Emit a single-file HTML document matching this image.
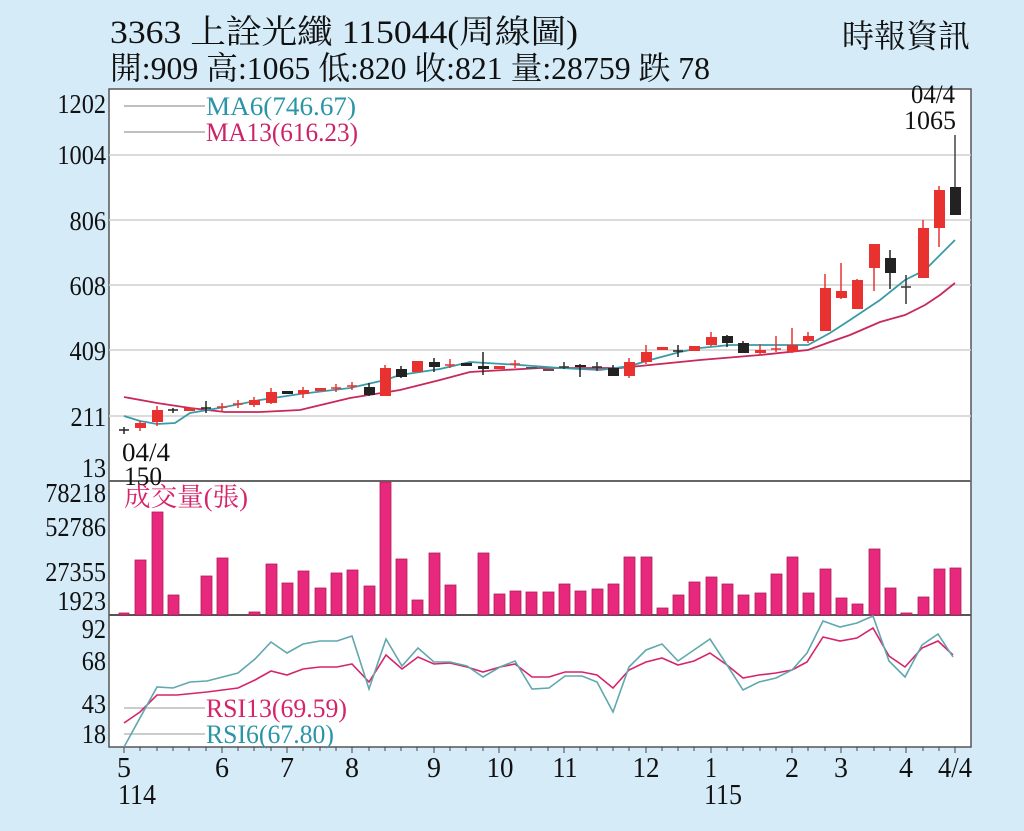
<!DOCTYPE html>
<html><head><meta charset="utf-8"><style>
html,body{margin:0;padding:0;background:#d5ebf8;}
svg{display:block;font-family:"Liberation Serif","Noto Serif CJK SC","Noto Sans CJK TC",serif;}
</style></head><body>
<svg width="1024" height="831" viewBox="0 0 1024 831" xmlns="http://www.w3.org/2000/svg">
<rect width="1024" height="831" fill="#d5ebf8"/>
<text x="110" y="43" font-size="33" fill="#111" textLength="468" lengthAdjust="spacingAndGlyphs">3363  上詮光纖 115044(周線圖)</text>
<text x="110" y="79" font-size="32" fill="#111" textLength="600" lengthAdjust="spacingAndGlyphs">開:909 高:1065 低:820 收:821 量:28759 跌 78</text>
<text x="842" y="47" font-size="32" fill="#111" textLength="128" lengthAdjust="spacingAndGlyphs">時報資訊</text>

<rect x="109" y="89" width="862" height="658" fill="#fff" stroke="#555" stroke-width="1.5"/>
<g stroke="#cfcfcf" stroke-width="1.5">
<line x1="109" y1="155" x2="971" y2="155"/><line x1="109" y1="220" x2="971" y2="220"/>
<line x1="109" y1="285" x2="971" y2="285"/><line x1="109" y1="350" x2="971" y2="350"/>
<line x1="109" y1="416" x2="971" y2="416"/>
</g>
<line x1="109" y1="481" x2="971" y2="481" stroke="#666" stroke-width="2"/>
<line x1="109" y1="615" x2="971" y2="615" stroke="#555" stroke-width="2"/>

<g font-size="27" fill="#111" text-anchor="end" transform="translate(106,0) scale(0.9,1) translate(-106,0)">
<text x="106" y="113">1202</text><text x="106" y="164">1004</text><text x="106" y="230">806</text>
<text x="106" y="295">608</text><text x="106" y="360">409</text><text x="106" y="426">211</text>
<text x="106" y="477">13</text>
<text x="106" y="502">78218</text><text x="106" y="536">52786</text><text x="106" y="581">27355</text><text x="106" y="610">1923</text>
<text x="106" y="638">92</text><text x="106" y="670">68</text><text x="106" y="713">43</text><text x="106" y="743">18</text>
</g>

<line x1="124" y1="106" x2="205" y2="106" stroke="#aaa" stroke-width="1.5"/>
<line x1="124" y1="132" x2="205" y2="132" stroke="#aaa" stroke-width="1.5"/>
<text x="206" y="115" font-size="26" fill="#2b95a8" textLength="150" lengthAdjust="spacingAndGlyphs">MA6(746.67)</text>
<text x="206" y="141" font-size="26" fill="#cc2366" textLength="152" lengthAdjust="spacingAndGlyphs">MA13(616.23)</text>
<text x="911" y="103" font-size="26" fill="#111" textLength="44" lengthAdjust="spacingAndGlyphs">04/4</text>
<text x="904" y="129" font-size="26" fill="#111" textLength="52" lengthAdjust="spacingAndGlyphs">1065</text>
<text x="122" y="461" font-size="26" fill="#111" textLength="48" lengthAdjust="spacingAndGlyphs">04/4</text>
<text x="124" y="485" font-size="26" fill="#111" textLength="38" lengthAdjust="spacingAndGlyphs">150</text>

<!-- MAs -->
<polyline fill="none" stroke="#c8285a" stroke-width="1.8" points="124,397 157,403 190,408 225,412 260,412 300,410 350,398 400,390 440,380 470,372 540,368 620,368 660,364 700,360 760,355 808,350 830,342 850,335 880,322 905,315 925,305 940,295 955,283"/>
<polyline fill="none" stroke="#3a9aa8" stroke-width="1.8" points="124,416 140,421 157,424 175,423 190,413 225,407 260,400 300,394 350,388 385,380 400,375 440,369 470,362 520,365 560,368 600,370 630,366 650,360 680,352 700,348 730,345 760,345 808,345 830,333 850,320 880,300 905,280 925,270 940,255 955,240"/>

<!-- candles -->
<g stroke-width="1.5">
<g stroke="#222"><line x1="124" y1="427" x2="124" y2="434"/><line x1="119" y1="430" x2="129" y2="430"/></g>
<line x1="140" y1="421" x2="140" y2="431" stroke="#e8322f"/><rect x="135" y="423" width="11" height="5" fill="#e8322f"/>
<line x1="157" y1="406" x2="157" y2="426" stroke="#e8322f"/><rect x="152" y="410" width="11" height="12" fill="#e8322f"/>
<g stroke="#222"><line x1="173" y1="408" x2="173" y2="413"/><line x1="168" y1="410" x2="178" y2="410"/></g>
<rect x="184" y="408" width="11" height="3" fill="#e8322f"/>
<g stroke="#222"><line x1="206" y1="401" x2="206" y2="413"/><line x1="201" y1="408" x2="211" y2="408"/></g>
<g stroke="#e8322f"><line x1="222" y1="403" x2="222" y2="411"/><line x1="217" y1="407" x2="227" y2="407"/></g>
<g stroke="#e8322f"><line x1="238" y1="400" x2="238" y2="408"/><line x1="233" y1="404" x2="243" y2="404"/></g>
<line x1="254" y1="397" x2="254" y2="407" stroke="#e8322f"/><rect x="249" y="400" width="11" height="5" fill="#e8322f"/>
<line x1="271" y1="388" x2="271" y2="404" stroke="#e8322f"/><rect x="266" y="392" width="11" height="11" fill="#e8322f"/>
<rect x="282" y="391" width="11" height="3" fill="#222"/>
<line x1="303" y1="387" x2="303" y2="398" stroke="#e8322f"/><rect x="298" y="390" width="11" height="4" fill="#e8322f"/>
<rect x="315" y="388" width="11" height="3" fill="#e8322f"/>
<g stroke="#e8322f"><line x1="336" y1="384" x2="336" y2="392"/><line x1="331" y1="388" x2="341" y2="388"/></g>
<g stroke="#e8322f"><line x1="352" y1="382" x2="352" y2="390"/><line x1="347" y1="386" x2="357" y2="386"/></g>
<line x1="369" y1="383" x2="369" y2="396" stroke="#222"/><rect x="364" y="387" width="11" height="8" fill="#222"/>
<line x1="385" y1="365" x2="385" y2="396" stroke="#e8322f"/><rect x="380" y="368" width="11" height="28" fill="#e8322f"/>
<line x1="401" y1="366" x2="401" y2="378" stroke="#222"/><rect x="396" y="369" width="11" height="8" fill="#222"/>
<rect x="412" y="361" width="11" height="11" fill="#e8322f"/>
<line x1="434" y1="358" x2="434" y2="372" stroke="#222"/><rect x="429" y="362" width="11" height="5" fill="#222"/>
<g stroke="#e8322f"><line x1="450" y1="359" x2="450" y2="368"/><line x1="445" y1="365" x2="455" y2="365"/></g>
<rect x="461" y="363" width="11" height="3" fill="#222"/>
<line x1="483" y1="352" x2="483" y2="375" stroke="#222"/><rect x="478" y="366" width="11" height="3" fill="#222"/>
<rect x="494" y="366" width="11" height="3" fill="#e8322f"/>
<g stroke="#e8322f"><line x1="515" y1="360" x2="515" y2="368"/><line x1="510" y1="364" x2="520" y2="364"/></g>
<rect x="526" y="367" width="11" height="2" fill="#555"/>
<rect x="543" y="369" width="11" height="2" fill="#555"/>
<g stroke="#333"><line x1="564" y1="362" x2="564" y2="369"/><line x1="559" y1="367" x2="569" y2="367"/></g>
<line x1="580" y1="364" x2="580" y2="377" stroke="#222"/><rect x="575" y="365" width="11" height="2" fill="#222"/>
<g stroke="#333"><line x1="597" y1="362" x2="597" y2="371"/><line x1="592" y1="367" x2="602" y2="367"/></g>
<line x1="613" y1="365" x2="613" y2="376" stroke="#222"/><rect x="608" y="368" width="11" height="8" fill="#222"/>
<line x1="629" y1="358" x2="629" y2="378" stroke="#e8322f"/><rect x="624" y="362" width="11" height="14" fill="#e8322f"/>
<line x1="646" y1="345" x2="646" y2="364" stroke="#e8322f"/><rect x="641" y="352" width="11" height="10" fill="#e8322f"/>
<rect x="657" y="347" width="11" height="3" fill="#e8322f"/>
<g stroke="#222"><line x1="678" y1="345" x2="678" y2="357"/><line x1="673" y1="351" x2="683" y2="351"/></g>
<rect x="689" y="346" width="11" height="5" fill="#e8322f"/>
<line x1="711" y1="332" x2="711" y2="346" stroke="#e8322f"/><rect x="706" y="337" width="11" height="8" fill="#e8322f"/>
<line x1="727" y1="335" x2="727" y2="347" stroke="#222"/><rect x="722" y="336" width="11" height="7" fill="#222"/>
<line x1="743" y1="341" x2="743" y2="353" stroke="#222"/><rect x="738" y="343" width="11" height="10" fill="#222"/>
<line x1="760" y1="344" x2="760" y2="354" stroke="#e8322f"/><rect x="755" y="350" width="11" height="3" fill="#e8322f"/>
<g stroke="#e8322f"><line x1="776" y1="336" x2="776" y2="352"/><line x1="771" y1="349" x2="781" y2="349"/></g>
<line x1="792" y1="328" x2="792" y2="353" stroke="#e8322f"/><rect x="787" y="345" width="11" height="7" fill="#e8322f"/>
<line x1="808" y1="332" x2="808" y2="343" stroke="#e8322f"/><rect x="803" y="336" width="11" height="5" fill="#e8322f"/>
<line x1="825" y1="274" x2="825" y2="331" stroke="#e8322f"/><rect x="820" y="288" width="11" height="43" fill="#e8322f"/>
<line x1="841" y1="263" x2="841" y2="299" stroke="#e8322f"/><rect x="836" y="291" width="11" height="7" fill="#e8322f"/>
<line x1="857" y1="279" x2="857" y2="309" stroke="#e8322f"/><rect x="852" y="280" width="11" height="29" fill="#e8322f"/>
<line x1="874" y1="244" x2="874" y2="291" stroke="#e8322f"/><rect x="869" y="244" width="11" height="24" fill="#e8322f"/>
<line x1="890" y1="250" x2="890" y2="289" stroke="#222"/><rect x="885" y="258" width="11" height="15" fill="#222"/>
<g stroke="#333"><line x1="906" y1="275" x2="906" y2="304"/><line x1="901" y1="287" x2="911" y2="287"/></g>
<line x1="923" y1="220" x2="923" y2="278" stroke="#e8322f"/><rect x="918" y="228" width="11" height="50" fill="#e8322f"/>
<line x1="939" y1="186" x2="939" y2="247" stroke="#e8322f"/><rect x="934" y="190" width="11" height="38" fill="#e8322f"/>
<line x1="955" y1="135" x2="955" y2="215" stroke="#444"/><rect x="950" y="187" width="11" height="28" fill="#222"/>
</g>

<text x="124" y="506" font-size="26" fill="#d6246a" textLength="124" lengthAdjust="spacingAndGlyphs">成交量(張)</text>
<!-- volume -->
<g fill="#e8287c" stroke="#b01e5a" stroke-width="0.8">
<rect x="119" y="613" width="10" height="2"/><rect x="135" y="560" width="11" height="55"/>
<rect x="152" y="512" width="11" height="103"/><rect x="168" y="595" width="11" height="20"/>
<rect x="201" y="576" width="11" height="39"/><rect x="217" y="558" width="11" height="57"/>
<rect x="249" y="612" width="11" height="3"/><rect x="266" y="564" width="11" height="51"/>
<rect x="282" y="583" width="11" height="32"/><rect x="298" y="571" width="11" height="44"/>
<rect x="315" y="588" width="11" height="27"/><rect x="331" y="573" width="11" height="42"/>
<rect x="347" y="570" width="11" height="45"/><rect x="364" y="586" width="11" height="29"/>
<rect x="380" y="482" width="11" height="133"/><rect x="396" y="559" width="11" height="56"/>
<rect x="412" y="600" width="11" height="15"/><rect x="429" y="553" width="11" height="62"/>
<rect x="445" y="585" width="11" height="30"/><rect x="478" y="553" width="11" height="62"/>
<rect x="494" y="594" width="11" height="21"/><rect x="510" y="591" width="11" height="24"/>
<rect x="526" y="592" width="11" height="23"/><rect x="543" y="592" width="11" height="23"/>
<rect x="559" y="584" width="11" height="31"/><rect x="575" y="591" width="11" height="24"/>
<rect x="592" y="589" width="11" height="26"/><rect x="608" y="584" width="11" height="31"/>
<rect x="624" y="557" width="11" height="58"/><rect x="641" y="557" width="11" height="58"/>
<rect x="657" y="608" width="11" height="7"/><rect x="673" y="595" width="11" height="20"/>
<rect x="689" y="582" width="11" height="33"/><rect x="706" y="577" width="11" height="38"/>
<rect x="722" y="584" width="11" height="31"/><rect x="738" y="595" width="11" height="20"/>
<rect x="755" y="593" width="11" height="22"/><rect x="771" y="574" width="11" height="41"/>
<rect x="787" y="557" width="11" height="58"/><rect x="803" y="593" width="11" height="22"/>
<rect x="820" y="569" width="11" height="46"/><rect x="836" y="598" width="11" height="17"/>
<rect x="852" y="604" width="11" height="11"/><rect x="869" y="549" width="11" height="66"/>
<rect x="885" y="588" width="11" height="27"/><rect x="901" y="613" width="11" height="2"/>
<rect x="918" y="597" width="11" height="18"/><rect x="934" y="569" width="11" height="46"/>
<rect x="950" y="568" width="11" height="47"/>
</g>

<!-- RSI -->
<line x1="124" y1="708" x2="205" y2="708" stroke="#bbb" stroke-width="1.5"/>
<line x1="124" y1="734" x2="205" y2="734" stroke="#bbb" stroke-width="1.5"/>
<polyline fill="none" stroke="#d6246a" stroke-width="1.6" points="124,723 140,712 157,695 177,695 207,692 238,688 255,680 271,671 287,675 303,669 320,667 337,667 352,664 369,682 386,655 402,669 418,657 434,664 450,663 467,667 483,672 500,667 515,664 532,677 549,677 565,672 582,672 597,675 613,688 629,670 646,662 662,658 678,665 694,661 710,653 727,665 743,678 759,675 776,673 792,670 807,662 823,637 840,641 857,638 873,628 889,656 905,667 922,648 938,641 953,655"/>
<polyline fill="none" stroke="#5fa8ae" stroke-width="1.6" points="124,747 157,687 173,688 190,682 207,681 238,673 255,659 271,642 287,653 303,644 320,641 337,641 352,636 369,689 386,639 402,666 418,648 434,662 450,662 467,666 483,677 500,667 515,661 532,689 549,688 565,676 582,676 597,682 613,712 629,667 646,650 662,644 678,661 694,650 710,639 727,665 743,690 759,682 776,678 792,670 807,653 823,621 840,627 857,623 873,616 889,661 905,677 922,645 938,634 953,657"/>
<text x="206" y="717" font-size="26" fill="#d6246a" textLength="141" lengthAdjust="spacingAndGlyphs">RSI13(69.59)</text>
<text x="206" y="743" font-size="26" fill="#2b95a8" textLength="128" lengthAdjust="spacingAndGlyphs">RSI6(67.80)</text>

<!-- x ticks -->
<g stroke="#444" stroke-width="1">
<line x1="124" y1="747" x2="124" y2="753"/><line x1="140" y1="747" x2="140" y2="751"/><line x1="157" y1="747" x2="157" y2="751"/><line x1="173" y1="747" x2="173" y2="751"/><line x1="189" y1="747" x2="189" y2="751"/><line x1="206" y1="747" x2="206" y2="751"/><line x1="222" y1="747" x2="222" y2="753"/><line x1="238" y1="747" x2="238" y2="751"/><line x1="254" y1="747" x2="254" y2="751"/><line x1="271" y1="747" x2="271" y2="751"/><line x1="287" y1="747" x2="287" y2="753"/><line x1="303" y1="747" x2="303" y2="751"/><line x1="320" y1="747" x2="320" y2="751"/><line x1="336" y1="747" x2="336" y2="751"/><line x1="352" y1="747" x2="352" y2="753"/><line x1="369" y1="747" x2="369" y2="751"/><line x1="385" y1="747" x2="385" y2="751"/><line x1="401" y1="747" x2="401" y2="751"/><line x1="417" y1="747" x2="417" y2="751"/><line x1="434" y1="747" x2="434" y2="753"/><line x1="450" y1="747" x2="450" y2="751"/><line x1="466" y1="747" x2="466" y2="751"/><line x1="483" y1="747" x2="483" y2="751"/><line x1="499" y1="747" x2="499" y2="753"/><line x1="515" y1="747" x2="515" y2="751"/><line x1="531" y1="747" x2="531" y2="751"/><line x1="548" y1="747" x2="548" y2="751"/><line x1="564" y1="747" x2="564" y2="753"/><line x1="580" y1="747" x2="580" y2="751"/><line x1="597" y1="747" x2="597" y2="751"/><line x1="613" y1="747" x2="613" y2="751"/><line x1="629" y1="747" x2="629" y2="751"/><line x1="646" y1="747" x2="646" y2="753"/><line x1="662" y1="747" x2="662" y2="751"/><line x1="678" y1="747" x2="678" y2="751"/><line x1="694" y1="747" x2="694" y2="751"/><line x1="711" y1="747" x2="711" y2="753"/><line x1="727" y1="747" x2="727" y2="751"/><line x1="743" y1="747" x2="743" y2="751"/><line x1="760" y1="747" x2="760" y2="751"/><line x1="776" y1="747" x2="776" y2="751"/><line x1="792" y1="747" x2="792" y2="753"/><line x1="808" y1="747" x2="808" y2="751"/><line x1="825" y1="747" x2="825" y2="751"/><line x1="841" y1="747" x2="841" y2="753"/><line x1="857" y1="747" x2="857" y2="751"/><line x1="874" y1="747" x2="874" y2="751"/><line x1="890" y1="747" x2="890" y2="751"/><line x1="906" y1="747" x2="906" y2="753"/><line x1="923" y1="747" x2="923" y2="751"/><line x1="939" y1="747" x2="939" y2="751"/><line x1="955" y1="747" x2="955" y2="753"/>
</g>
<g font-size="29" fill="#111" text-anchor="middle">
<text x="124" y="777" textLength="14" lengthAdjust="spacingAndGlyphs">5</text><text x="222" y="777" textLength="14" lengthAdjust="spacingAndGlyphs">6</text><text x="287" y="777" textLength="14" lengthAdjust="spacingAndGlyphs">7</text><text x="352" y="777" textLength="14" lengthAdjust="spacingAndGlyphs">8</text>
<text x="434" y="777" textLength="14" lengthAdjust="spacingAndGlyphs">9</text><text x="500" y="777" textLength="27" lengthAdjust="spacingAndGlyphs">10</text><text x="565" y="777" textLength="25" lengthAdjust="spacingAndGlyphs">11</text><text x="646" y="777" textLength="27" lengthAdjust="spacingAndGlyphs">12</text>
<text x="711" y="777" textLength="12" lengthAdjust="spacingAndGlyphs">1</text><text x="792" y="777" textLength="14" lengthAdjust="spacingAndGlyphs">2</text><text x="841" y="777" textLength="14" lengthAdjust="spacingAndGlyphs">3</text><text x="906" y="777" textLength="14" lengthAdjust="spacingAndGlyphs">4</text>
<text x="955" y="777" textLength="34" lengthAdjust="spacingAndGlyphs">4/4</text>
<text x="137" y="804" textLength="38" lengthAdjust="spacingAndGlyphs">114</text><text x="723" y="804" textLength="38" lengthAdjust="spacingAndGlyphs">115</text>
</g>
</svg>
</body></html>
